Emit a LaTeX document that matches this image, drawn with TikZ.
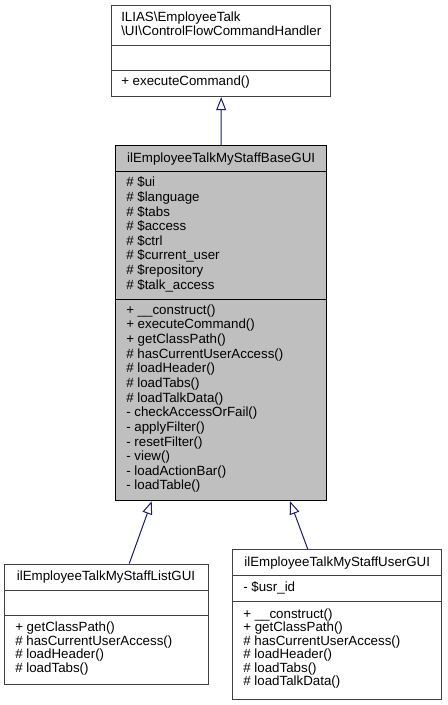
\documentclass[tikz,border=0pt]{standalone}
\usepackage{fontspec}
\setmainfont{Liberation Sans}
\usetikzlibrary{arrows.meta,calc}
\definecolor{edgeblue}{HTML}{191970}
\definecolor{rootgrey}{HTML}{BFBFBF}

\begin{document}
\begin{tikzpicture}
  [x=0.75pt,y=-0.75pt,
   every node/.style={inner sep=0pt,font=\fontsize{10}{12}\selectfont},
   cls/.style={draw=black!75,line width=0.75pt,fill=white},
   root/.style={draw=black,line width=0.75pt,fill=rootgrey},
   member/.style={anchor=base west},
   inherit/.style={draw=edgeblue,line width=0.75pt,-{Triangle[open,length=9.75pt,width=7.5pt]}}]
  \useasboundingbox (0,0) rectangle (447,705);

  % class boxes
  \node[cls,minimum width=164.25pt,minimum height=68.25pt] (ctrl) at (221.2,51.2) {};
  \node[root,minimum width=158.4pt,minimum height=266.25pt] (base) at (221.1,323.2) {};
  \node[cls,minimum width=153pt,minimum height=90.2pt] (list) at (106,624.15) {};
  \node[cls,minimum width=156.75pt,minimum height=112.35pt] (user) at (337.2,624.4) {};

  % compartments
  \foreach \n/\y in {ctrl/45.7,ctrl/70.7,list/590,list/615,user/575,user/601}
    \draw[black!75,line width=0.75pt] (\n.west |- 0,\y) -- (\n.east |- 0,\y);
  \foreach \y in {171.7,299.3}
    \draw[black,line width=0.75pt] (base.west |- 0,\y) -- (base.east |- 0,\y);

  % ILIAS\EmployeeTalk\UI\ControlFlowCommandHandler
  \node[member] (ctrl-name1) at (121,21.7) {ILIAS\textbackslash EmployeeTalk};
  \node[member] (ctrl-name2) at (121,36) {\textbackslash UI\textbackslash ControlFlowCommandHandler};
  \node[member] (ctrl-op0) at (121,86) {+ executeCommand()};

  % ilEmployeeTalkMyStaffBaseGUI
  \node[anchor=base] (base-name) at (221.1,162.5) {ilEmployeeTalkMyStaffBaseGUI};
  \foreach \t [count=\i from 0] in {\# \$ui,\# \$language,\# \$tabs,\# \$access,
      \# \$ctrl,\# \$current\_user,\# \$repository,\# \$talk\_access}
    \node[member] (base-attr\i) at (126,{186.7+14.66*\i}) {\t};
  \foreach \t [count=\i from 0] in {+ \_\_construct(),+ executeCommand(),+ getClassPath(),
      \# hasCurrentUserAccess(),\# loadHeader(),\# loadTabs(),\# loadTalkData(),
      - checkAccessOrFail(),- applyFilter(),- resetFilter(),- view(),
      - loadActionBar(),- loadTable()}
    \node[member] (base-op\i) at (126,{314.3+14.64*\i}) {\t};

  % ilEmployeeTalkMyStaffListGUI
  \node[anchor=base] (list-name) at (106,580.5) {ilEmployeeTalkMyStaffListGUI};
  \foreach \t [count=\i from 0] in {+ getClassPath(),\# hasCurrentUserAccess(),
      \# loadHeader(),\# loadTabs()}
    \node[member] (list-op\i) at (15,{631.7+13.6*\i}) {\t};

  % ilEmployeeTalkMyStaffUserGUI
  \node[anchor=base] (user-name) at (337.2,566.5) {ilEmployeeTalkMyStaffUserGUI};
  \node[member] (user-attr0) at (243,591.5) {- \$usr\_id};
  \foreach \t [count=\i from 0] in {+ \_\_construct(),+ getClassPath(),
      \# hasCurrentUserAccess(),\# loadHeader(),\# loadTabs(),\# loadTalkData()}
    \node[member] (user-op\i) at (243,{618+13.55*\i}) {\t};

  % generalisation
  \draw[inherit] (base.north) -- (ctrl.south);
  \draw[inherit] ($(list.north)+(23.3,0)$) -- ($(base.south)+(-69.4,0)$);
  \draw[inherit] ($(user.north)+(-29.5,0)$) -- ($(base.south)+(68.9,0)$);

\end{tikzpicture}
\end{document}
